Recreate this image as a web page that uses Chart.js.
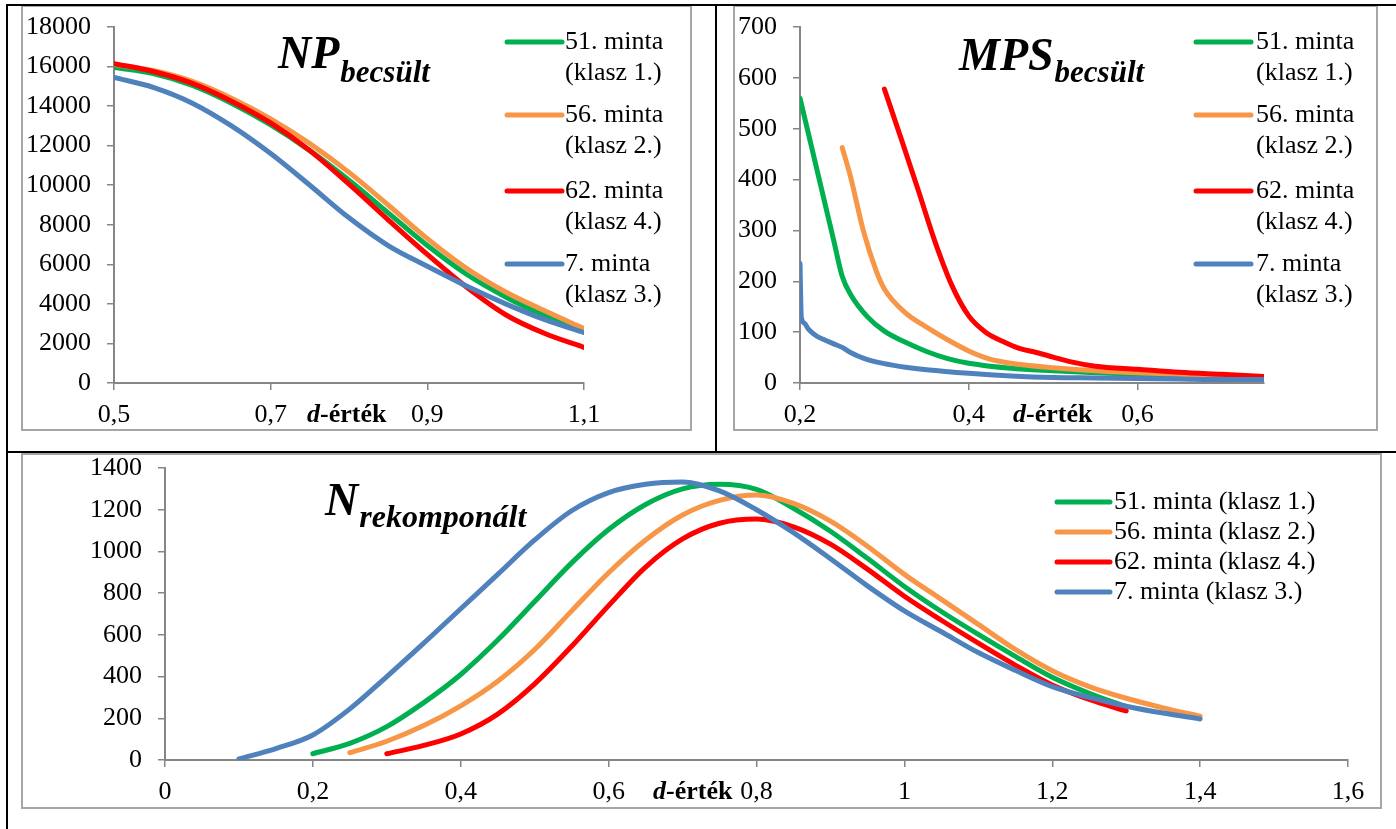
<!DOCTYPE html>
<html>
<head>
<meta charset="utf-8">
<script src="https://cdn.jsdelivr.net/npm/chart.js@4.4.1/dist/chart.umd.min.js"></script>
<style>
  body { margin: 0; background: #fff; }
  #page { position: relative; width: 1396px; height: 829px; overflow: hidden; background: #fff; }
  .rule { position: absolute; background: #000; }
  .frame { position: absolute; border: 2px solid #a6a6a6; box-sizing: border-box; pointer-events: none; }
  canvas { position: absolute; }
</style>
</head>
<body>
<div id="page">
  <canvas id="npChart" width="671" height="426" style="left:21px; top:5px;"></canvas>
  <canvas id="mpsChart" width="645" height="426" style="left:733px; top:5px;"></canvas>
  <canvas id="nChart" width="1361" height="356" style="left:21px; top:453px;"></canvas>

  <div class="frame" style="left:21px; top:5px; width:671px; height:426px;"></div>
  <div class="frame" style="left:733px; top:5px; width:645px; height:426px;"></div>
  <div class="frame" style="left:21px; top:453px; width:1361px; height:356px;"></div>

  <!-- table rules -->
  <div class="rule" style="left:6px; top:4px; width:1390px; height:2px;"></div>
  <div class="rule" style="left:6px; top:4px; width:2px; height:825px;"></div>
  <div class="rule" style="left:715px; top:4px; width:2px; height:448px;"></div>
  <div class="rule" style="left:6px; top:451px; width:1390px; height:2px;"></div>
</div>
<script>
// Series: 51, 56, 62, 7. minta
const seriesNames = ['51. minta', '56. minta', '62. minta', '7. minta'];
const seriesClasses = ['(klasz 1.)', '(klasz 2.)', '(klasz 4.)', '(klasz 3.)'];

// NP becsült
const npX = [0.5, 0.55, 0.6, 0.65, 0.7, 0.75, 0.8, 0.85, 0.9, 0.95, 1.0, 1.05, 1.1];
const np51 = [15950, 15650, 15050, 14150, 13050, 11750, 10250, 8600, 6950, 5500, 4350, 3400, 2600];
const np56 = [16100, 15800, 15250, 14400, 13350, 12100, 10650, 9000, 7300, 5800, 4600, 3650, 2750];
const np62 = [16150, 15750, 15150, 14250, 13150, 11750, 10050, 8250, 6500, 4850, 3450, 2500, 1800];
const np7 = [15450, 14950, 14150, 13000, 11600, 10000, 8350, 6950, 5900, 4900, 4000, 3200, 2550];
const npTicksX = [0.5, 0.7, 0.9, 1.1];
const npTicksY = [0, 2000, 4000, 6000, 8000, 10000, 12000, 14000, 16000, 18000];

// MPS becsült
const mps51X = [0.2, 0.22, 0.24, 0.25, 0.26, 0.28, 0.3, 0.325, 0.35, 0.375, 0.4, 0.45, 0.5, 0.55, 0.6, 0.65, 0.7, 0.75];
const mps51 = [560, 420, 280, 210, 174, 130, 102, 80, 62, 48, 39, 29, 24, 20, 17, 15, 13, 12];
const mps56X = [0.25, 0.26, 0.275, 0.29, 0.3, 0.325, 0.35, 0.375, 0.4, 0.425, 0.45, 0.5, 0.55, 0.6, 0.65, 0.7, 0.75];
const mps56 = [463, 405, 300, 222, 185, 138, 110, 85, 63, 47, 39, 30, 24, 20, 17, 14, 12];
const mps62X = [0.3, 0.32, 0.34, 0.36, 0.38, 0.4, 0.42, 0.44, 0.46, 0.48, 0.5, 0.52, 0.55, 0.6, 0.65, 0.7, 0.75];
const mps62 = [578, 480, 380, 278, 192, 132, 100, 82, 68, 60, 51, 42, 33, 27, 21, 17, 13];
const mps7X = [0.2, 0.2015, 0.205, 0.21, 0.22, 0.23, 0.24, 0.25, 0.26, 0.27, 0.28, 0.3, 0.325, 0.35, 0.4, 0.45, 0.5, 0.55, 0.6, 0.65, 0.7, 0.75];
const mps7 = [235, 130, 118, 106, 92, 84, 77, 70, 60, 52, 46, 38, 31, 26, 19, 14, 11, 10, 9, 8, 7, 7];
const mpsTicksX = [0.2, 0.4, 0.6];
const mpsTicksY = [0, 100, 200, 300, 400, 500, 600, 700];

// N rekomponált
const n51X = [0.2, 0.25, 0.3, 0.35, 0.4, 0.45, 0.5, 0.55, 0.6, 0.65, 0.7, 0.75, 0.8, 0.85, 0.9, 0.95, 1.0, 1.05, 1.1, 1.15, 1.2, 1.25, 1.3];
const n51 = [30, 80, 160, 275, 410, 575, 760, 945, 1105, 1225, 1300, 1322, 1297, 1207, 1097, 967, 832, 712, 602, 497, 397, 320, 255];
const n56X = [0.25, 0.3, 0.35, 0.4, 0.45, 0.5, 0.55, 0.6, 0.65, 0.7, 0.75, 0.8, 0.85, 0.9, 0.95, 1.0, 1.05, 1.1, 1.15, 1.2, 1.25, 1.3, 1.35, 1.4];
const n56 = [35, 90, 165, 260, 378, 530, 715, 898, 1055, 1175, 1245, 1270, 1230, 1145, 1025, 890, 770, 650, 530, 428, 352, 296, 250, 210];
const n62X = [0.3, 0.35, 0.4, 0.45, 0.5, 0.55, 0.6, 0.65, 0.7, 0.75, 0.8, 0.85, 0.9, 0.95, 1.0, 1.05, 1.1, 1.15, 1.2, 1.25, 1.3];
const n62 = [30, 70, 125, 220, 365, 545, 740, 925, 1060, 1135, 1155, 1118, 1035, 915, 785, 670, 560, 455, 360, 290, 235];
const n7X = [0.1, 0.15, 0.2, 0.25, 0.3, 0.35, 0.4, 0.45, 0.5, 0.55, 0.6, 0.65, 0.7, 0.75, 0.8, 0.85, 0.9, 0.95, 1.0, 1.05, 1.1, 1.15, 1.2, 1.25, 1.3, 1.35, 1.4];
const n7 = [5, 55, 120, 245, 400, 560, 725, 890, 1055, 1195, 1282, 1322, 1333, 1290, 1200, 1090, 965, 835, 715, 615, 515, 430, 352, 300, 258, 225, 197];
const nTicksX = [0, 0.2, 0.4, 0.6, 0.8, 1, 1.2, 1.4, 1.6];
const nTicksY = [0, 200, 400, 600, 800, 1000, 1200, 1400];

// Styling
const SERIF = "'Liberation Serif', 'Times New Roman', serif";
const seriesColors = ['#00b050', '#f79646', '#ff0000', '#4f81bd'];
const drawOrder = [3, 2, 1, 0]; // blue ends up on top
const AXIS_GREY = '#868686';

Chart.defaults.font.family = SERIF;
Chart.defaults.font.size = 26;
Chart.defaults.color = '#000';

const toPoints = (xs, ys) => xs.map((x, i) => ({ x: x, y: ys[i] }));
const fmt = v => String(v).replace('.', ',');

function lineSet(i, points) {
    return {
        label: seriesNames[i],
        data: points,
        borderColor: seriesColors[i],
        backgroundColor: seriesColors[i],
        borderWidth: 5,
        pointRadius: 0,
        borderCapStyle: 'round',
        borderJoinStyle: 'round',
        cubicInterpolationMode: 'monotone',
        order: drawOrder[i]
    };
}

function axis(min, max, tickValues, size, isX) {
    return {
        type: 'linear',
        min: min,
        max: max,
        afterBuildTicks: s => { s.ticks = tickValues.map(v => ({ value: v })); },
        afterFit: s => {
            // fixed axis box, no extra room for the end labels
            if (isX) s.height = size; else s.width = size;
            s.paddingTop = 0; s.paddingBottom = 0;
            s.paddingLeft = 0; s.paddingRight = 0;
        },
        grid: { drawOnChartArea: false, drawTicks: true, tickLength: 7, color: AXIS_GREY, lineWidth: 1.5 },
        border: { display: true, color: AXIS_GREY, width: 2 },
        ticks: { padding: isX ? 10 : 16, maxRotation: 0, autoSkip: false, callback: v => fmt(v) }
    };
}

// Title with subscript, the "d-érték" axis name and the legend drawn on the canvas
function panelText(t) {
    return {
        id: 'panelText',
        afterDraw(chart) {
            const ctx = chart.ctx;
            ctx.save();
            ctx.fillStyle = '#000';
            ctx.textAlign = 'left';
            ctx.textBaseline = 'alphabetic';

            ctx.font = `italic bold 46px ${SERIF}`;
            ctx.fillText(t.title, t.titleX, t.titleY);
            const tw = ctx.measureText(t.title).width;
            ctx.font = `italic bold ${t.subSize}px ${SERIF}`;
            ctx.fillText(t.sub, t.titleX + tw + 1, t.titleY + t.subDrop);

            ctx.font = `italic bold 26px ${SERIF}`;
            ctx.fillText('d', t.axisX, t.axisY);
            const dw = ctx.measureText('d').width;
            ctx.font = `bold 26px ${SERIF}`;
            ctx.fillText('-érték', t.axisX + dw, t.axisY);

            ctx.font = `26px ${SERIF}`;
            ctx.textBaseline = 'middle';
            ctx.lineWidth = 5;
            ctx.lineCap = 'round';
            chart.data.datasets.forEach((ds, i) => {
                const y = t.legendY[i];
                ctx.strokeStyle = ds.borderColor;
                ctx.beginPath();
                ctx.moveTo(t.lineX1, y);
                ctx.lineTo(t.lineX2, y);
                ctx.stroke();
                if (t.twoLines) {
                    ctx.fillText(seriesNames[i], t.textX, y);
                    ctx.fillText(seriesClasses[i], t.textX, y + 31);
                } else {
                    ctx.fillText(seriesNames[i] + ' ' + seriesClasses[i], t.textX, y);
                }
            });
            ctx.restore();
        }
    };
}

function makeChart(id, datasets, scales, padding, text) {
    return new Chart(document.getElementById(id), {
        type: 'line',
        data: { datasets: datasets },
        options: {
            responsive: false,
            animation: false,
            layout: { padding: padding },
            plugins: { legend: { display: false }, tooltip: { enabled: false } },
            scales: scales
        },
        plugins: [panelText(text)]
    });
}

makeChart('npChart',
    [lineSet(0, toPoints(npX, np51)), lineSet(1, toPoints(npX, np56)),
     lineSet(2, toPoints(npX, np62)), lineSet(3, toPoints(npX, np7))],
    { x: axis(0.5, 1.1, npTicksX, 48, true), y: axis(0, 18000, npTicksY, 93, false) },
    { left: 0, top: 22, right: 108, bottom: 0 },
    { title: 'NP', sub: 'becsült', subSize: 31, subDrop: 14, titleX: 257, titleY: 63,
      axisX: 286, axisY: 417, twoLines: true,
      lineX1: 486, lineX2: 541, textX: 544, legendY: [37, 110, 186, 259] });

makeChart('mpsChart',
    [lineSet(0, toPoints(mps51X, mps51)), lineSet(1, toPoints(mps56X, mps56)),
     lineSet(2, toPoints(mps62X, mps62)), lineSet(3, toPoints(mps7X, mps7))],
    { x: axis(0.2, 0.75, mpsTicksX, 48, true), y: axis(0, 700, mpsTicksY, 67, false) },
    { left: 0, top: 22, right: 114, bottom: 0 },
    { title: 'MPS', sub: 'becsült', subSize: 31, subDrop: 12, titleX: 226, titleY: 65,
      axisX: 280, axisY: 417, twoLines: true,
      lineX1: 463, lineX2: 518, textX: 523, legendY: [37, 110, 186, 259] });

makeChart('nChart',
    [lineSet(0, toPoints(n51X, n51)), lineSet(1, toPoints(n56X, n56)),
     lineSet(2, toPoints(n62X, n62)), lineSet(3, toPoints(n7X, n7))],
    { x: axis(0, 1.6, nTicksX, 49, true), y: axis(0, 1400, nTicksY, 144, false) },
    { left: 0, top: 15, right: 34, bottom: 0 },
    { title: 'N', sub: 'rekomponált', subSize: 32, subDrop: 12, titleX: 304, titleY: 62,
      axisX: 632, axisY: 346, twoLines: false,
      lineX1: 1036, lineX2: 1089, textX: 1093, legendY: [49, 79, 109, 139] });
</script>
</body>
</html>
